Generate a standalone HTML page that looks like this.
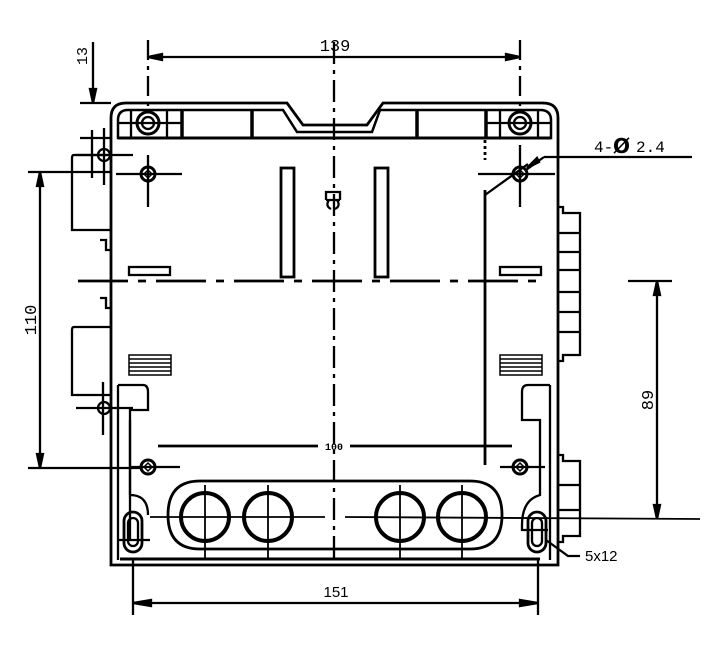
<!DOCTYPE html>
<html><head><meta charset="utf-8"><style>
html,body{margin:0;padding:0;background:#fff;}
svg{display:block;}
text{font-family:"Liberation Mono",monospace;fill:#000;}
</style></head><body>
<svg width="706" height="658" viewBox="0 0 706 658" xmlns="http://www.w3.org/2000/svg" fill="none" stroke="#000" stroke-width="2.3">
<!-- body outline -->
<path d="M111 565 V118 Q111 103 126 103 H287 L303 125 H367 L383 103 H543 Q558 103 558 118 V565 H111 Z" stroke-width="2.8"/>
<path d="M118 138 V120 Q118 110 128 110 H283 L297 132 H372 L380 110 H540 Q551 110 551 120 V138 Z" stroke-width="2.5"/>
<line x1="118" y1="138" x2="551" y2="138" stroke-width="3"/>
<line x1="182" y1="110" x2="182" y2="138" stroke-width="3.5"/>
<line x1="252" y1="110" x2="252" y2="138" stroke-width="3.5"/>
<line x1="417" y1="110" x2="417" y2="138" stroke-width="3.5"/>
<line x1="486" y1="110" x2="486" y2="138" stroke-width="3.5"/>
<line x1="131" y1="110" x2="131" y2="138"/><line x1="167" y1="110" x2="167" y2="138"/>
<line x1="118" y1="123" x2="182" y2="123"/>
<line x1="500" y1="110" x2="500" y2="138"/><line x1="538" y1="110" x2="538" y2="138"/>
<line x1="486" y1="123" x2="551" y2="123"/>
<circle cx="148" cy="123" r="11" stroke-width="3"/><circle cx="148" cy="123" r="6"/>
<circle cx="520" cy="123" r="11" stroke-width="3"/><circle cx="520" cy="123" r="6"/>
<!-- mounting holes -->
<g stroke-width="2.3">
<circle cx="148" cy="174" r="7" stroke-width="3"/><circle cx="520" cy="174" r="7" stroke-width="3"/>
<circle cx="148" cy="467" r="7" stroke-width="3"/><circle cx="520" cy="467" r="7" stroke-width="3"/>
<path d="M148 170 l4 4 l-4 4 l-4 -4 z M520 170 l4 4 l-4 4 l-4 -4 z M148 463 l4 4 l-4 4 l-4 -4 z M520 463 l4 4 l-4 4 l-4 -4 z" stroke-width="1.5"/>
<line x1="116" y1="174" x2="182" y2="174"/><line x1="148" y1="155" x2="148" y2="207"/>
<line x1="478" y1="174" x2="555" y2="174"/><line x1="520" y1="145" x2="520" y2="207"/>
<line x1="130" y1="467" x2="180" y2="467"/><line x1="500" y1="467" x2="545" y2="467"/>
</g>
<!-- center lines -->
<line x1="334" y1="42" x2="334" y2="565" stroke-dasharray="22,6,4,6"/>
<line x1="78" y1="281" x2="540" y2="281" stroke-dasharray="50,10,8,10" stroke-width="2.8"/>
<line x1="148" y1="40" x2="148" y2="110" stroke-dasharray="20,6,4,6"/>
<line x1="520" y1="40" x2="520" y2="110" stroke-dasharray="20,6,4,6"/>
<!-- slots -->
<rect x="281" y="168" width="13" height="109" stroke-width="2.8"/>
<rect x="375" y="168" width="13" height="109" stroke-width="2.8"/>
<rect x="129" y="267" width="41" height="8"/>
<rect x="500" y="267" width="41" height="8"/>
<path d="M326 200 v-8 h14 v8 M326 200 h14 M329 200 q-4 6 2 9 M337 200 q4 6 -2 9"/>
<!-- vents -->
<g stroke-width="1.5">
<rect x="129" y="355" width="42" height="20"/>
<line x1="129" y1="359" x2="171" y2="359"/><line x1="129" y1="363" x2="171" y2="363"/><line x1="129" y1="367" x2="171" y2="367"/><line x1="129" y1="371" x2="171" y2="371"/>
<rect x="500" y="355" width="42" height="20"/>
<line x1="500" y1="359" x2="542" y2="359"/><line x1="500" y1="363" x2="542" y2="363"/><line x1="500" y1="367" x2="542" y2="367"/><line x1="500" y1="371" x2="542" y2="371"/>
</g>
<!-- left side tabs -->
<path d="M111 155 H74 Q72 155 72 158 V230 H111" />
<path d="M111 327 H74 Q72 327 72 330 V395 H111"/>
<path d="M100 240 h6 v10 h5 M100 298 h6 v10 h5"/>
<circle cx="104" cy="155" r="6"/><line x1="92" y1="130" x2="92" y2="178"/><line x1="104" y1="128" x2="104" y2="185"/>
<line x1="76" y1="155" x2="133" y2="155"/>
<circle cx="104" cy="408" r="6"/><line x1="103" y1="382" x2="103" y2="435"/><line x1="76" y1="408" x2="133" y2="408"/>
<!-- left latch -->
<path d="M118 385 V560 M118 385 H143 Q148 385 148 392 V410 H130 V495 M130 495 Q148 495 148 515"/>
<path d="M130 420 V540 M118 540 H150"/>
<!-- right latch -->
<path d="M550 385 V560 M550 385 H528 Q522 385 522 392 V420 H540 V495 Q522 500 522 525 V530 H548"/>
<!-- right connectors -->
<path d="M558 207 h5 v6 h17 v142 h-17 v6 h-5"/>
<line x1="558" y1="233" x2="580" y2="233"/><line x1="558" y1="252" x2="580" y2="252"/><line x1="558" y1="270" x2="580" y2="270"/><line x1="558" y1="292" x2="580" y2="292"/><line x1="558" y1="312" x2="580" y2="312"/><line x1="558" y1="332" x2="580" y2="332"/>
<path d="M558 455 h5 v6 h17 v75 h-17 v6 h-5"/>
<line x1="558" y1="485" x2="580" y2="485"/><line x1="558" y1="510" x2="580" y2="510"/>
<!-- bottom oval & holes -->
<path d="M200 481 H470 Q502 481 502 515 Q502 549 470 549 H200 Q168 549 168 515 Q168 481 200 481 Z" stroke-width="2.8"/>
<circle cx="205" cy="517" r="24" stroke-width="4"/>
<circle cx="268" cy="517" r="24" stroke-width="4"/>
<circle cx="400" cy="517" r="24" stroke-width="4"/>
<circle cx="462" cy="517" r="24" stroke-width="4"/>
<g stroke-width="1.8">
<line x1="205" y1="485" x2="205" y2="560"/><line x1="268" y1="485" x2="268" y2="560"/>
<line x1="400" y1="485" x2="400" y2="560"/><line x1="462" y1="485" x2="462" y2="560"/>
<line x1="150" y1="517" x2="325" y2="517"/><line x1="345" y1="517" x2="700" y2="519"/>
</g>
<line x1="120" y1="559" x2="540" y2="559" stroke-width="3"/>
<rect x="124" y="512" width="18" height="40" rx="9" stroke-width="2.8"/>
<rect x="128" y="518" width="10" height="28" rx="5"/>
<rect x="528" y="512" width="18" height="40" rx="9" stroke-width="2.8"/>
<rect x="532" y="518" width="10" height="28" rx="5"/>
<!-- inner dims -->
<line x1="158" y1="446" x2="318" y2="446" stroke-width="2.8"/><line x1="350" y1="446" x2="512" y2="446" stroke-width="2.8"/>
<text x="334" y="450" font-size="10" font-weight="bold" text-anchor="middle" stroke="none">100</text>
<line x1="485" y1="190" x2="485" y2="465" stroke-width="2.8"/>
<line x1="485" y1="140" x2="485" y2="160" stroke-width="2.8" stroke-dasharray="3,3"/>
<line x1="485" y1="195" x2="528" y2="164"/>
<!-- 139 dim -->
<line x1="148" y1="57" x2="520" y2="57"/>
<path d="M148 57 l14 -3 v6 z M520 57 l-14 -3 v6 z" fill="#000"/>
<text x="335" y="51" font-size="17" text-anchor="middle" stroke="none">139</text>
<!-- 13 dim -->
<line x1="93" y1="42" x2="93" y2="103"/>
<path d="M93 103 l-3 -14 h6 z" fill="#000"/>
<line x1="80" y1="103" x2="111" y2="103"/><line x1="80" y1="138" x2="111" y2="138"/>
<text transform="translate(87,56) rotate(-90)" font-size="15" text-anchor="middle" stroke="none">13</text>
<!-- 110 dim -->
<line x1="40" y1="172" x2="40" y2="468"/>
<path d="M40 172 l-3 14 h6 z M40 468 l-3 -14 h6 z" fill="#000"/>
<line x1="28" y1="172" x2="110" y2="172"/><line x1="28" y1="468" x2="140" y2="468"/>
<text transform="translate(36,320) rotate(-90)" font-size="17" text-anchor="middle" stroke="none">110</text>
<!-- 89 dim -->
<line x1="657" y1="281" x2="657" y2="519"/>
<path d="M657 281 l-3 14 h6 z M657 519 l-3 -14 h6 z" fill="#000"/>
<line x1="628" y1="281" x2="672" y2="281"/>
<text transform="translate(653,400) rotate(-90)" font-size="17" text-anchor="middle" stroke="none">89</text>
<!-- 151 dim -->
<line x1="133" y1="603" x2="538" y2="603"/>
<path d="M133 603 l18 -3 v6 z M538 603 l-18 -3 v6 z" fill="#000"/>
<line x1="133" y1="560" x2="133" y2="615"/><line x1="538" y1="560" x2="538" y2="615"/>
<text x="336" y="597" font-size="15" text-anchor="middle" stroke="none" style="font-family:'Liberation Sans',sans-serif">151</text>
<!-- 4-Ø2.4 -->
<line x1="544" y1="157" x2="692" y2="157"/>
<line x1="544" y1="157" x2="526" y2="170"/>
<path d="M527 168 l10 -10 l2 4 z" fill="#000"/>
<text x="594" y="152" font-size="16" stroke="none">4-</text>
<text x="613" y="153" font-size="20" font-weight="bold" stroke="none" style="font-family:'DejaVu Sans',sans-serif">Ø</text>
<text x="636" y="152" font-size="16" stroke="none">2.4</text>
<!-- 5x12 -->
<path d="M546 540 L568 556 H580"/>
<text x="585" y="561" font-size="15" stroke="none" style="font-family:'Liberation Sans',sans-serif">5x12</text>
</svg>
</body></html>
